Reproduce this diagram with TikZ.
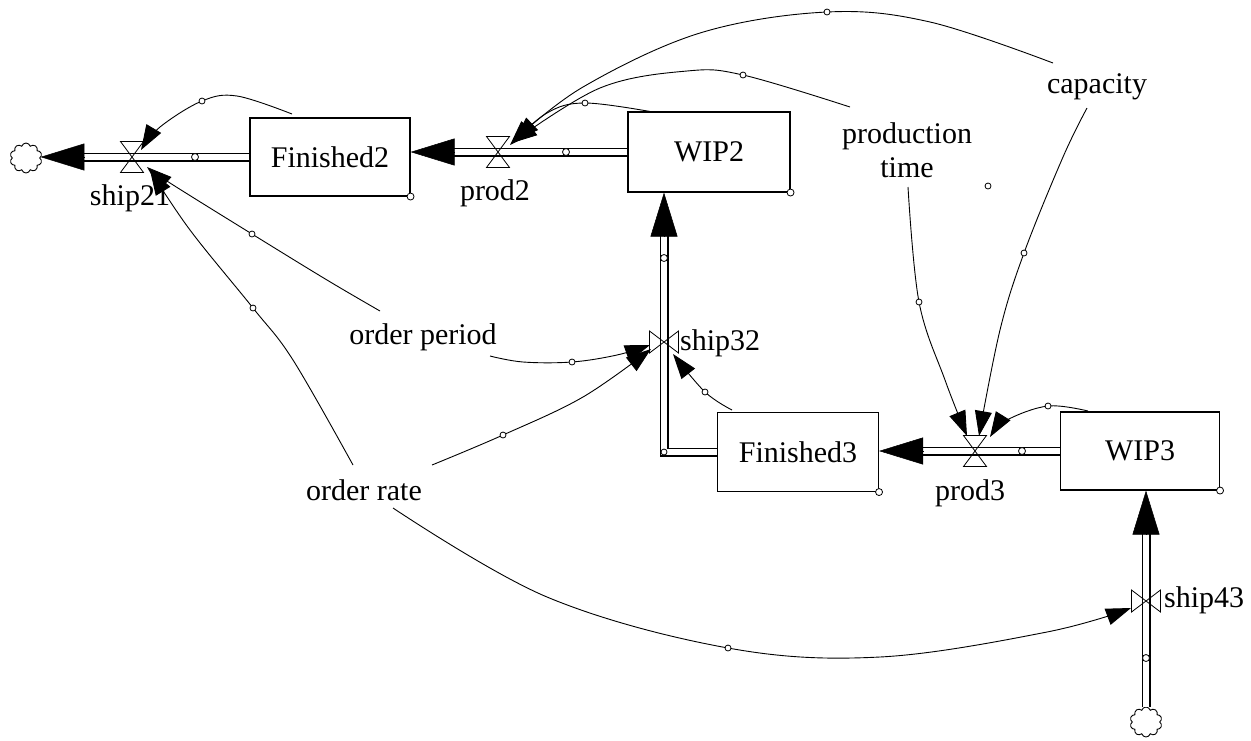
\documentclass[tikz,border=0pt]{standalone}
\usepackage{fontspec}
\setmainfont{Liberation Serif}
\usetikzlibrary{arrows.meta,shapes.symbols,calc}
\tikzset{
  hvalve/.pic={\draw[line width=0.8pt] (-11.5,-15.5) -- (11.5,-15.5) -- (-11.5,15.5) -- (11.5,15.5) -- cycle;},
  vvalve/.pic={\draw[line width=0.8pt] (-14.5,-11) -- (-14.5,11) -- (14.5,-11) -- (14.5,11) -- cycle;}
}
\begin{document}
\begin{tikzpicture}[x=1pt,y=-1pt,
  txt/.style={font=\fontsize{30}{34}\selectfont, inner sep=0pt, align=center},
  stock/.style={draw, line width=1.1pt, minimum width=160pt, minimum height=78pt, inner sep=0pt, font=\fontsize{30}{34}\selectfont},
  pipe/.style={line width=1.5pt, double=white, double distance=6pt},
  flowhead/.style={draw, line width=0.5pt, -{Triangle[length=44pt,width=27pt]}},
  info/.style={draw, line width=0.9pt, -{Triangle[length=25pt,width=17pt]}},
  handle/.style={circle, draw, fill=white, inner sep=0pt, minimum size=7pt, line width=0.8pt},
  srcsink/.style={cloud, draw, cloud puffs=10, cloud puff arc=150, aspect=1, minimum width=32pt, minimum height=30pt, inner sep=0pt, line width=0.9pt},
]
\useasboundingbox (0,0) rectangle (1251,740);

% stocks
\node[stock] (F2) at (330,157) {Finished2};
\node[stock, minimum width=162pt, minimum height=80pt] (W2) at (709,152) {WIP2};
\node[stock, minimum width=161pt, minimum height=79pt] (F3) at (798,452) {Finished3};
\node[stock, minimum width=159pt] (W3) at (1140,451) {WIP3};
\node[srcsink] (cloudL) at (26,158) {};
\node[srcsink] (cloudB) at (1146,722) {};

% valve positions
\coordinate (v21) at (132,157);
\coordinate (vp2) at (498,152);
\coordinate (vp3) at (975,451);
\coordinate (v32) at (664,342);
\coordinate (v43) at (1146,601);

% pipe end points
\coordinate (p21e) at (F2.west -| cloudL.east);
\coordinate (p2e) at (W2.west -| F2.east);
\coordinate (p3e) at (W3.west -| F3.east);
\coordinate (c32) at (664,452);
\coordinate (p32e) at (c32 |- W2.south);
\coordinate (p43e) at (cloudB.north |- W3.south);

% pipes
\draw[pipe, shorten >=40pt] (F2.west) -- (p21e);
\draw[flowhead] ($(p21e)+(44,0)$) -- (p21e);
\draw[pipe, shorten >=40pt] (W2.west) -- (p2e);
\draw[flowhead] ($(p2e)+(44,0)$) -- (p2e);
\draw[pipe, shorten >=40pt] (W3.west) -- (p3e);
\draw[flowhead] ($(p3e)+(44,0)$) -- (p3e);
\draw[pipe, shorten >=40pt] (F3.west) -- (c32) -- (p32e);
\draw[flowhead] ($(p32e)+(0,44)$) -- (p32e);
\draw[pipe, shorten >=40pt] (cloudB.north) -- (p43e);
\draw[flowhead] ($(p43e)+(0,44)$) -- (p43e);

% valves
\pic at (v21) {hvalve};
\pic at (vp2) {hvalve};
\pic at (vp3) {hvalve};
\pic at (v32) {vvalve};
\pic at (v43) {vvalve};

% pipe handles
\node[handle] (hp21) at (195,157) {};
\node[handle] (hp2) at (566,152) {};
\node[handle] (hp3) at (1022,451) {};
\node[handle] (hp32a) at (664,258) {};
\node[handle, minimum size=6pt] (hp32b) at (c32) {};
\node[handle] (hp43) at (1146,658) {};

% corner circles
\node[handle] (kF2) at (F2.south east) {};
\node[handle] (kW2) at (W2.south east) {};
\node[handle] (kF3) at (F3.south east) {};
\node[handle] (kW3) at (W3.south east) {};
\node[handle, minimum size=6pt] (stray) at (988,186) {};

% labels
\node[txt] (l21) at (130,198) {ship21};
\node[txt] (lp2) at (495,193) {prod2};
\node[txt] (lp3) at (970,493) {prod3};
\node[txt, anchor=west] (l32) at (680,343) {ship32};
\node[txt, anchor=west] (l43) at (1164,600) {ship43};
\node[txt] (op) at (423,337) {order period};
\node[txt] (orr) at (364,490) {order rate};
\node[txt] (pt) at (907,150) {production\\time};
\node[txt] (cap) at (1097,87) {capacity};

% connector handles (positions)
\coordinate (h1) at (202,101);
\coordinate (h2) at (585,103);
\coordinate (h3) at (743,75);
\coordinate (h4) at (827,12);
\coordinate (h5) at (252,234);
\coordinate (h6) at (253,308);
\coordinate (h7) at (572,362);
\coordinate (h8) at (503,435);
\coordinate (h9) at (705,392);
\coordinate (h10) at (919,302);
\coordinate (h11) at (1024,253);
\coordinate (h12) at (1048,406);
\coordinate (h13) at (728,648);

% connector free ends
\coordinate (sF2) at (292,114);
\coordinate (sW2) at (653,112);
\coordinate (sPT1) at (850,107);
\coordinate (sCap1) at (1053,63);
\coordinate (sOP1) at (380,311);
\coordinate (sOR1) at (353,465);
\coordinate (sOP2) at (490,356);
\coordinate (sOR2) at (432,465);
\coordinate (sF3) at (732,410);
\coordinate (sPT2) at (908,187);
\coordinate (sCap2) at (1087,108);
\coordinate (sW3) at (1088,411);
\coordinate (sOR3) at (393,508);

\coordinate (e21a) at (141,150);
\coordinate (e21b) at (147,167);
\coordinate (e21c) at (150,170);
\coordinate (ep2a) at (510,145);
\coordinate (ep2b) at (512,143);
\coordinate (ep2c) at (514,141);
\coordinate (e32a) at (650,345);
\coordinate (e32b) at (651,349);
\coordinate (e32c) at (673,354);
\coordinate (ep3a) at (967,436);
\coordinate (ep3b) at (979,436);
\coordinate (ep3c) at (990,437);
\coordinate (e43) at (1131,608);

% connectors
\draw[info] plot[smooth, tension=0.6] coordinates {(sF2) (237,96) (h1) (160,127) (e21a)};
\draw[info] plot[smooth, tension=0.6] coordinates {(sW2) (h2) (547,113) (ep2a)};
\draw[info] plot[smooth, tension=0.6] coordinates {(sPT1) (h3) (687,71) (600,88) (ep2b)};
\draw[info] plot[smooth, tension=0.6] coordinates {(sCap1) (930,22) (h4) (700,33) (583,87) (ep2c)};
\draw[info] plot[smooth, tension=0.6] coordinates {(sOP1) (327,280) (h5) (170,183) (e21b)};
\draw[info] plot[smooth, tension=0.6] coordinates {(sOR1) (293,360) (h6) (190,230) (e21c)};
\draw[info] plot[smooth, tension=0.6] coordinates {(sOP2) (523,362) (h7) (617,355) (e32a)};
\draw[info] plot[smooth, tension=0.6] coordinates {(sOR2) (h8) (583,397) (e32b)};
\draw[info] plot[smooth, tension=0.6] coordinates {(sF3) (h9) (e32c)};
\draw[info] plot[smooth, tension=0.6] coordinates {(sPT2) (h10) (945,380) (ep3a)};
\draw[info] plot[smooth, tension=0.6] coordinates {(sCap2) (1063,157) (h11) (1000,330) (ep3b)};
\draw[info] plot[smooth, tension=0.6] coordinates {(sW3) (h12) (1007,420) (ep3c)};
\draw[info] plot[smooth, tension=0.6] coordinates {(sOR3) (547,597) (h13) (880,657) (1047,632) (e43)};

% connector handle circles
\foreach \h in {h1,h2,h3,h4,h5,h6,h7,h8,h9,h10,h11,h12,h13}
  \node[handle, minimum size=6pt] (\h c) at (\h) {};
\end{tikzpicture}
\end{document}
